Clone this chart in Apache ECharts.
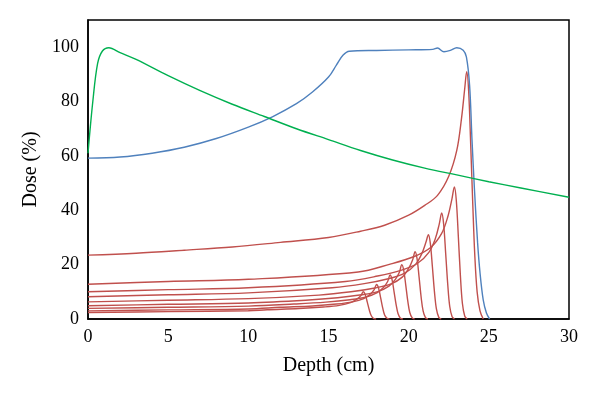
<!DOCTYPE html>
<html>
<head>
<meta charset="utf-8">
<script src="https://cdn.jsdelivr.net/npm/echarts@6/dist/echarts.min.js"></script>
<style>
  html, body { margin: 0; padding: 0; background: #fff; }
  #main { width: 600px; height: 400px; }
</style>
</head>
<body>
<div id="main"></div>
<script>
// [depth (cm), dose (%)]
const photonCurve = [[0, 61], [0.3, 80], [0.6, 94], [0.9, 98.6], [1.3, 99.8], [2, 98], [3, 95.5], [5, 89.5],
  [7, 84], [9, 79], [11, 74.5], [13, 70], [15, 66], [17, 62], [19, 58.5], [21, 55.5], [23, 53], [25, 50.5],
  [27, 48.2], [30, 44.8]];

const sobpCurve = [[0, 59.2], [2, 59.6], [4, 61], [6, 63.2], [8, 66.4], [10, 70.6], [11.5, 74.4], [13, 79.2],
  [14, 83.5], [15, 89], [15.5, 93.5], [15.9, 97], [16.3, 98.5], [18, 98.8], [20, 99], [21.5, 99.2], [21.8, 99.7],
  [22.2, 98.3], [22.6, 98.8], [23, 99.8], [23.4, 98.9], [23.6, 96.4], [23.8, 86], [23.95, 66], [24.1, 48],
  [24.3, 28], [24.45, 17], [24.65, 7], [24.85, 2.2], [25.05, 0]];

const bragg1 = [[0, 23.5], [3, 24.2], [6, 25.3], [9, 26.5], [12, 28.2], [15, 30], [17, 32.3], [18.5, 34.5],
  [20, 38.2], [21, 41.8], [21.8, 45.5], [22.5, 52.5], [23, 62], [23.3, 74], [23.5, 85], [23.62, 91],
  [23.74, 84], [23.87, 64], [24.0, 42], [24.12, 24], [24.27, 10], [24.45, 3], [24.65, 0]];
const bragg2 = [[0, 12.8], [5, 13.8], [10, 14.6], [16.85, 17.3], [18.85, 20.2], [20.35, 23], [21.35, 26.2],
  [22.05, 31.4], [22.45, 37.8], [22.7, 44.2], [22.85, 48.6], [22.97, 43.7], [23.1, 30.1], [23.23, 15.6],
  [23.35, 5.8], [23.5, 1], [23.65, 0]];
const bragg3 = [[0, 10], [5, 10.8], [10, 11.5], [16.06, 13.8], [18.06, 15.8], [19.56, 18], [20.56, 20.5],
  [21.26, 24.5], [21.66, 29.5], [21.91, 35], [22.06, 39], [22.18, 35], [22.31, 24], [22.44, 12.5],
  [22.56, 4.7], [22.71, 0.8], [22.86, 0]];
const bragg4 = [[0, 8.2], [5, 8.9], [10, 9.6], [15.23, 11.5], [17.23, 13], [18.73, 14.8], [19.73, 16.8],
  [20.43, 20.1], [20.83, 24.2], [21.08, 28.3], [21.23, 31], [21.35, 27.9], [21.48, 19.2], [21.61, 9.9],
  [21.73, 3.7], [21.88, 0.6], [22.03, 0]];
const bragg5 = [[0, 6.3], [5, 6.9], [10, 7.5], [14.4, 8.8], [16.4, 10], [17.9, 11.4], [18.9, 12.9],
  [19.6, 15.4], [20.0, 18.6], [20.25, 21.8], [20.4, 24.8], [20.52, 22.3], [20.65, 15.4], [20.78, 7.9],
  [20.9, 3], [21.05, 0.5], [21.2, 0]];
const bragg6 = [[0, 4.9], [5, 5.4], [10, 5.9], [13.57, 6.9], [15.57, 7.8], [17.07, 8.9], [18.07, 10.1],
  [18.77, 12.1], [19.17, 14.6], [19.42, 17.2], [19.57, 20], [19.69, 18], [19.82, 12.4], [19.95, 6.4],
  [20.07, 2.4], [20.22, 0.4], [20.37, 0]];
const bragg7 = [[0, 3.9], [5, 4.3], [10, 4.75], [12.84, 5.5], [14.84, 6.2], [16.34, 7.1], [17.34, 8.1],
  [18.04, 9.7], [18.44, 11.7], [18.69, 13.8], [18.84, 16.2], [18.96, 14.6], [19.09, 10], [19.22, 5.2],
  [19.34, 1.9], [19.49, 0.3], [19.64, 0]];
const bragg8 = [[0, 3], [5, 3.35], [10, 3.7], [12, 4.3], [14, 4.8], [15.5, 5.5], [16.5, 6.3], [17.2, 7.5],
  [17.6, 9.1], [17.85, 10.8], [18.0, 12.7], [18.12, 11.4], [18.25, 7.9], [18.38, 4.1], [18.5, 1.5],
  [18.65, 0.3], [18.8, 0]];
const bragg9 = [[0, 2.4], [5, 2.7], [10, 3.05], [11.17, 3.4], [13.17, 3.85], [14.67, 4.4], [15.67, 5.0],
  [16.37, 6.0], [16.77, 7.3], [17.02, 8.6], [17.17, 10], [17.29, 9], [17.42, 6.2], [17.55, 3.2],
  [17.67, 1.2], [17.82, 0.2], [17.97, 0]];

const braggCurves = [bragg1, bragg2, bragg3, bragg4, bragg5, bragg6, bragg7, bragg8, bragg9];

const font = 'Liberation Serif';

function lineSeries(data, color) {
  return {
    type: 'line',
    data: data,
    showSymbol: false,
    smooth: 0.35,
    lineStyle: {color: color, width: 1.4},
    itemStyle: {color: color},
    silent: true,
    animation: false
  };
}

const series = braggCurves.map(c => lineSeries(c, '#c0504d'));
series.push(lineSeries(sobpCurve, '#4f81bd'));
series.push(lineSeries(photonCurve, '#00b050'));

const chart = echarts.init(document.getElementById('main'));
chart.setOption({
  animation: false,
  grid: {
    left: 88, right: 31, top: 20, bottom: 81,
    show: true,
    borderColor: '#000',
    borderWidth: 1.5
  },
  xAxis: {
    type: 'value',
    min: 0, max: 30, interval: 5,
    name: 'Depth (cm)',
    nameLocation: 'middle',
    nameGap: 37,
    nameTextStyle: {fontFamily: font, fontSize: 20, color: '#000'},
    axisLine: {lineStyle: {color: '#000', width: 1.5}},
    axisTick: {show: false},
    splitLine: {show: false},
    axisLabel: {margin: 9, fontFamily: font, fontSize: 18, color: '#000'}
  },
  yAxis: {
    type: 'value',
    min: 0, max: 110, interval: 20,
    name: 'Dose (%)',
    nameLocation: 'middle',
    nameGap: 43,
    nameTextStyle: {fontFamily: font, fontSize: 20, color: '#000'},
    axisLine: {show: true, lineStyle: {color: '#000', width: 1.5}},
    axisTick: {show: false},
    splitLine: {show: false},
    axisLabel: {
      margin: 9, fontFamily: font, fontSize: 18, color: '#000',
      formatter: v => (v % 20 === 0 ? String(v) : '')
    }
  },
  series: series
});
</script>
</body>
</html>
